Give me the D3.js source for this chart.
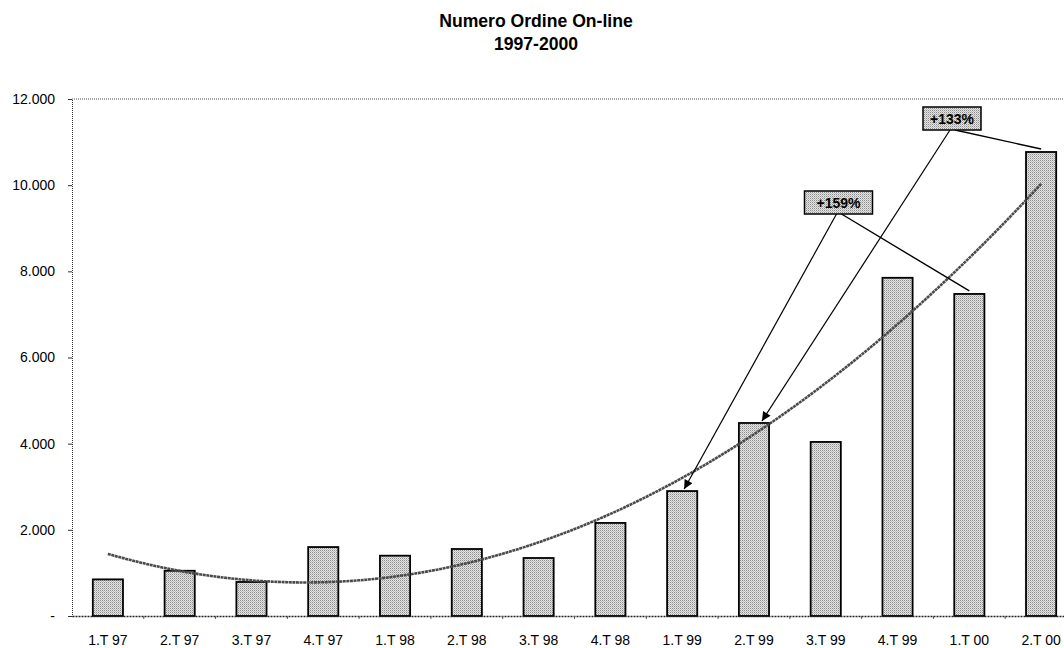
<!DOCTYPE html>
<html>
<head>
<meta charset="utf-8">
<script src="https://cdn.jsdelivr.net/npm/d3@7"></script>
<style>
  html, body { margin: 0; padding: 0; background: #fff; }
  svg { display: block; font-family: "Liberation Sans", Arial, sans-serif; }
</style>
</head>
<body>
<svg id="chart" width="1064" height="648"></svg>
<script>
// Quarterly on-line orders, 1997-2000
const quarters = ["1.T 97", "2.T 97", "3.T 97", "4.T 97", "1.T 98", "2.T 98", "3.T 98",
                  "4.T 98", "1.T 99", "2.T 99", "3.T 99", "4.T 99", "1.T 00", "2.T 00"];
const orders = [850, 1050, 790, 1600, 1400, 1555, 1346, 2160, 2900, 4480, 4040, 7850, 7475, 10770];
const yTicks = [0, 2000, 4000, 6000, 8000, 10000, 12000];
const titleLines = ["Numero Ordine On-line", "1997-2000"];

// Growth call-outs: label, the quarter the arrow points to, and the quarter compared
const callouts = [
  { label: "+159%", from: "1.T 99", to: "1.T 00" },
  { label: "+133%", from: "2.T 99", to: "2.T 00" }
];

const svg = d3.select("#chart");
const plot = { left: 72, top: 99, right: 1077, bottom: 616 };

const x = d3.scaleBand().domain(quarters)
  .range([plot.left, plot.right]).paddingInner(0.58).paddingOuter(0.29);
const y = d3.scaleLinear().domain([0, 12000]).range([plot.bottom, plot.top]);
const cx = q => x(q) + x.bandwidth() / 2;

// Stippled fill used by bars and call-out boxes
const defs = svg.append("defs");
const pat = defs.append("pattern").attr("id", "stipple")
  .attr("width", 2).attr("height", 2).attr("patternUnits", "userSpaceOnUse");
pat.append("rect").attr("width", 2).attr("height", 2).attr("fill", "#e4e4e4");
pat.append("rect").attr("width", 1).attr("height", 1).attr("fill", "#8c8c8c");
pat.append("rect").attr("x", 1).attr("y", 1).attr("width", 1).attr("height", 1).attr("fill", "#bdbdbd");

defs.append("marker").attr("id", "arrow")
  .attr("viewBox", "0 0 10 10").attr("refX", 10).attr("refY", 5)
  .attr("markerWidth", 11).attr("markerHeight", 9).attr("markerUnits", "userSpaceOnUse")
  .attr("orient", "auto")
  .append("path").attr("d", "M0,0 L10,5 L0,10 Z").attr("fill", "#000");

// Title
svg.append("g").selectAll("text").data(titleLines).join("text")
  .attr("x", 536).attr("y", (d, i) => 26.5 + i * 23)
  .attr("text-anchor", "middle").attr("font-size", 17.6).attr("font-weight", "bold")
  .attr("fill", "#000").text(d => d);

// Plot-area border (dotted top edge)
svg.append("line")
  .attr("x1", plot.left).attr("x2", plot.right).attr("y1", plot.top).attr("y2", plot.top)
  .attr("stroke", "#555").attr("stroke-width", 1).attr("stroke-dasharray", "1,1");

// Y axis
const fmt = v => v === 0 ? "-" : d3.format(",")(v).replace(/,/g, ".");
const yAxis = svg.append("g").attr("transform", `translate(${plot.left},0)`)
  .call(d3.axisLeft(y).tickValues(yTicks).tickFormat(fmt).tickSize(4).tickPadding(13));
yAxis.select(".domain").attr("stroke", "#333").attr("stroke-dasharray", "1,1");
yAxis.selectAll(".tick line").attr("stroke", "#333");
yAxis.selectAll(".tick text").attr("font-size", 14).attr("fill", "#000")
  .attr("font-family", "Liberation Sans, Arial, sans-serif");

// Bars
svg.append("g").selectAll("rect").data(quarters).join("rect")
  .attr("x", d => x(d)).attr("width", x.bandwidth())
  .attr("y", (d, i) => y(orders[i]))
  .attr("height", (d, i) => y(0) - y(orders[i]))
  .attr("fill", "url(#stipple)").attr("stroke", "#000").attr("stroke-width", 1.8);

// X axis
const xAxis = svg.append("g").attr("transform", `translate(0,${plot.bottom})`)
  .call(d3.axisBottom(x).tickSize(0).tickPadding(19));
xAxis.select(".domain").attr("stroke", "#222").attr("stroke-width", 1.6)
  .attr("stroke-dasharray", "2,1");
xAxis.selectAll(".tick text").attr("font-size", 14).attr("fill", "#000")
  .attr("font-family", "Liberation Sans, Arial, sans-serif");
// small ticks on band boundaries
svg.append("g").selectAll("line").data(quarters.slice(1)).join("line")
  .attr("x1", d => x(d) - x.step() * x.paddingInner() / 2)
  .attr("x2", d => x(d) - x.step() * x.paddingInner() / 2)
  .attr("y1", plot.bottom).attr("y2", plot.bottom + 3)
  .attr("stroke", "#555");

// Second-order polynomial trend (least squares over the quarter index)
function polyFit2(ys) {
  let s = [0, 0, 0, 0, 0], t = [0, 0, 0];
  ys.forEach((v, i) => {
    const u = i + 1;
    for (let k = 0; k <= 4; k++) s[k] += Math.pow(u, k);
    for (let k = 0; k <= 2; k++) t[k] += v * Math.pow(u, k);
  });
  const A = [[s[0], s[1], s[2]], [s[1], s[2], s[3]], [s[2], s[3], s[4]]];
  const det = m => m[0][0] * (m[1][1] * m[2][2] - m[1][2] * m[2][1])
    - m[0][1] * (m[1][0] * m[2][2] - m[1][2] * m[2][0])
    + m[0][2] * (m[1][0] * m[2][1] - m[1][1] * m[2][0]);
  const D = det(A);
  const coef = [0, 1, 2].map(c => det(A.map((row, r) => row.map((val, k) => k === c ? t[r] : val))) / D);
  return u => coef[0] + coef[1] * u + coef[2] * u * u;
}
const trend = polyFit2(orders);
const xi = d3.scaleLinear().domain([1, quarters.length]).range([cx(quarters[0]), cx(quarters[quarters.length - 1])]);
const us = d3.range(1, quarters.length + 0.001, 0.1);
svg.append("path")
  .attr("d", d3.line().x(u => xi(u)).y(u => y(trend(u))).curve(d3.curveMonotoneX)(us))
  .attr("fill", "none").attr("stroke", "#4a4a4a").attr("stroke-width", 2.6)
  .attr("stroke-dasharray", "3,0.6");

// Call-out boxes with leader lines
const boxPos = { "+159%": { x: 838.5, y: 202.5 }, "+133%": { x: 952, y: 118.5 } };
const tipShift = { "+159%": 2, "+133%": 8 };
callouts.forEach(c => {
  const b = boxPos[c.label];
  const g = svg.append("g");
  const fromVal = orders[quarters.indexOf(c.from)];
  const toVal = orders[quarters.indexOf(c.to)];
  g.append("line")
    .attr("x1", b.x - 2).attr("y1", b.y + 11.5)
    .attr("x2", cx(c.from) + tipShift[c.label]).attr("y2", y(fromVal) - 2)
    .attr("stroke", "#000").attr("stroke-width", 1.2).attr("marker-end", "url(#arrow)");
  g.append("line")
    .attr("x1", b.x + 3).attr("y1", b.y + 11.5)
    .attr("x2", cx(c.to)).attr("y2", y(toVal) - 3)
    .attr("stroke", "#000").attr("stroke-width", 1.4);
  const w = c.label === "+159%" ? 68 : 58;
  g.append("rect").attr("x", b.x - w / 2).attr("y", b.y - 11.5)
    .attr("width", w).attr("height", 23)
    .attr("fill", "url(#stipple)").attr("stroke", "#000").attr("stroke-width", 1.5);
  g.append("text").attr("x", b.x).attr("y", b.y + 5)
    .attr("text-anchor", "middle").attr("font-size", 14).attr("font-weight", "bold")
    .attr("fill", "#000").text(c.label);
});
</script>
</body>
</html>
